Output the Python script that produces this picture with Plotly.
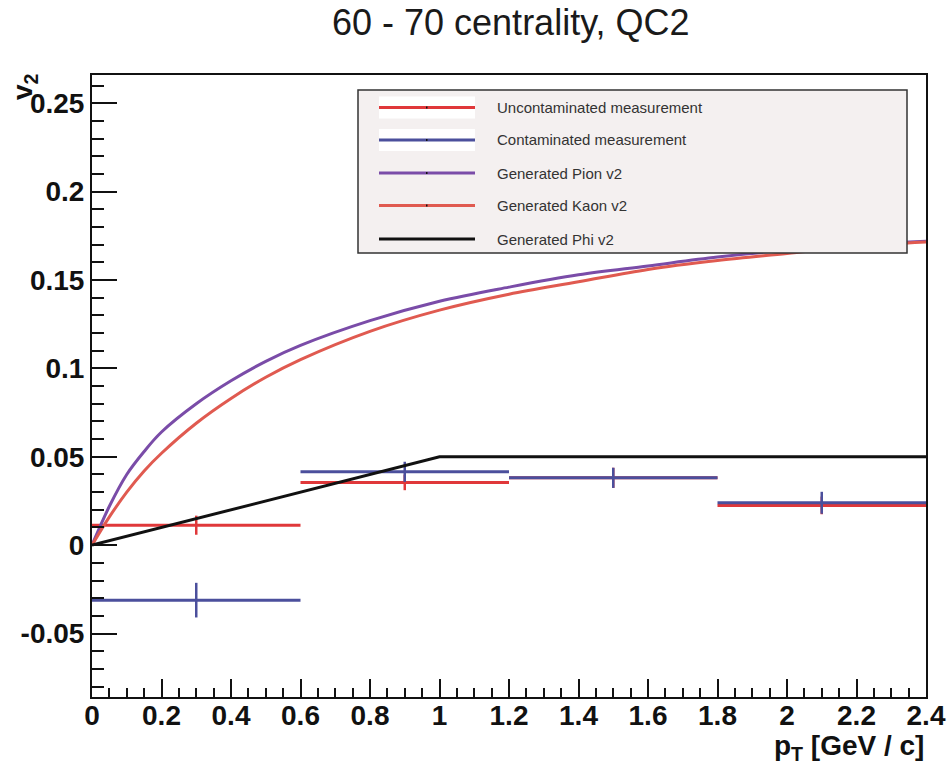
import plotly.graph_objects as go

# ---------------- data ----------------
bin_centers = [0.3, 0.9, 1.5, 2.1]
bin_halfwidth = [0.3, 0.3, 0.3, 0.3]

uncont_v2 = [0.0113, 0.0355, 0.0381, 0.0225]
uncont_err = [0.0054, 0.0044, 0.0057, 0.0050]

cont_v2 = [-0.0311, 0.0415, 0.0381, 0.0240]
cont_err = [0.0098, 0.0057, 0.0057, 0.0062]

curve_pt = [0.0, 0.05, 0.1, 0.15, 0.2, 0.3, 0.4, 0.5, 0.6, 0.8, 1.0, 1.2, 1.4, 1.6, 1.8, 2.0, 2.2, 2.4]
pion_v2 = [0.0, 0.022, 0.040, 0.053, 0.064, 0.080, 0.093, 0.104, 0.113, 0.127, 0.138, 0.146, 0.153, 0.158, 0.163, 0.167, 0.170, 0.172]
kaon_v2 = [0.0, 0.016, 0.030, 0.042, 0.052, 0.069, 0.083, 0.095, 0.105, 0.121, 0.133, 0.142, 0.149, 0.156, 0.161, 0.165, 0.169, 0.1715]

phi_pt = [0.0, 1.0, 2.4]
phi_v2 = [0.0, 0.05, 0.05]

x_tickvals = [0, 0.2, 0.4, 0.6, 0.8, 1.0, 1.2, 1.4, 1.6, 1.8, 2.0, 2.2, 2.4]
x_ticktext = ["0", "0.2", "0.4", "0.6", "0.8", "1", "1.2", "1.4", "1.6", "1.8", "2", "2.2", "2.4"]
y_tickvals = [-0.05, 0, 0.05, 0.1, 0.15, 0.2, 0.25]
y_ticktext = ["-0.05", "0", "0.05", "0.1", "0.15", "0.2", "0.25"]

legend_labels = ["Uncontaminated measurement", "Contaminated measurement",
                 "Generated Pion v2", "Generated Kaon v2", "Generated Phi v2"]

# ---------------- styles ----------------
RED = "#e0383a"
BLUE = "#4b4f9c"
PURPLE = "#7a4ca8"
KAON = "#e05a50"
BLACK = "#111111"
legend_colors = [RED, BLUE, PURPLE, KAON, BLACK]

BOLDFONT = dict(family="Liberation Sans, Arial", size=28, color="#111111")

fig = go.Figure()

fig.add_trace(go.Scatter(
    x=bin_centers, y=uncont_v2, mode="markers",
    marker=dict(size=1, color=RED),
    error_x=dict(type="data", array=bin_halfwidth, width=0, thickness=3, color=RED),
    error_y=dict(type="data", array=uncont_err, width=0, thickness=2.5, color=RED),
    showlegend=False, name=legend_labels[0]))

fig.add_trace(go.Scatter(
    x=bin_centers, y=cont_v2, mode="markers",
    marker=dict(size=1, color=BLUE),
    error_x=dict(type="data", array=bin_halfwidth, width=0, thickness=3, color=BLUE),
    error_y=dict(type="data", array=cont_err, width=0, thickness=2.5, color=BLUE),
    showlegend=False, name=legend_labels[1]))

fig.add_trace(go.Scatter(x=curve_pt, y=pion_v2, mode="lines", line=dict(color=PURPLE, width=3, shape="spline"),
                         showlegend=False, name=legend_labels[2]))
fig.add_trace(go.Scatter(x=curve_pt, y=kaon_v2, mode="lines", line=dict(color=KAON, width=3, shape="spline"),
                         showlegend=False, name=legend_labels[3]))
fig.add_trace(go.Scatter(x=phi_pt, y=phi_v2, mode="lines", line=dict(color=BLACK, width=3),
                         showlegend=False, name=legend_labels[4]))

# ---------------- layout ----------------
L, R, T, B = 92, 23, 75, 67
W, H = 949, 764
pw = W - L - R
ph = H - T - B

def px2x(px):
    return (px - L) / pw

def py2y(py):
    return (H - B - py) / ph

fig.update_layout(
    width=W, height=H,
    margin=dict(l=L, r=R, t=T, b=B),
    paper_bgcolor="white", plot_bgcolor="white",
    showlegend=False,
    font=dict(family="Liberation Sans, Arial"),
)

fig.update_xaxes(
    range=[0, 2.4], showgrid=False, zeroline=False, automargin=False,
    showline=True, mirror=True, linecolor="#111111", linewidth=2,
    ticks="inside", ticklen=18, tickwidth=1.5, tickcolor="#111111",
    tickvals=x_tickvals, ticktext=["<b>%s</b>" % t for t in x_ticktext],
    tickfont=BOLDFONT, ticklabeloverflow="allow", ticklabelstandoff=-8,
    minor=dict(ticks="inside", dtick=0.05, ticklen=9, tickwidth=1.5, tickcolor="#111111", showgrid=False),
)
fig.update_yaxes(
    range=[-0.0859, 0.266], showgrid=False, zeroline=False, automargin=False,
    showline=True, mirror=True, linecolor="#111111", linewidth=2,
    ticks="inside", ticklen=25, tickwidth=1.5, tickcolor="#111111",
    tickvals=y_tickvals, ticktext=["<b>%s</b>" % t for t in y_ticktext],
    tickfont=BOLDFONT, ticklabelstandoff=0, ticklabeloverflow="allow",
    minor=dict(ticks="inside", dtick=0.01, tick0=0, ticklen=12, tickwidth=1.5, tickcolor="#111111", showgrid=False),
)

shapes = []
annotations = []

# legend box
shapes.append(dict(type="rect", xref="paper", yref="paper",
                   x0=px2x(358), x1=px2x(907), y0=py2y(253), y1=py2y(90),
                   fillcolor="#f4f0f0", line=dict(color="#333333", width=1.5), layer="above"))
entry_y = [107.5, 140, 173, 205.5, 239]
for i, (lab, col, ey) in enumerate(zip(legend_labels, legend_colors, entry_y)):
    if i < 2:
        shapes.append(dict(type="rect", xref="paper", yref="paper",
                           x0=px2x(379), x1=px2x(475), y0=py2y(ey + 11), y1=py2y(ey - 11),
                           fillcolor="white", line=dict(width=0), layer="above"))
    shapes.append(dict(type="line", xref="paper", yref="paper",
                       x0=px2x(379), x1=px2x(475), y0=py2y(ey), y1=py2y(ey),
                       line=dict(color=col, width=3), layer="above"))
    shapes.append(dict(type="line", xref="paper", yref="paper",
                       x0=px2x(426), x1=px2x(427.5), y0=py2y(ey), y1=py2y(ey),
                       line=dict(color="#111111", width=2), layer="above"))
    annotations.append(dict(xref="paper", yref="paper", x=px2x(495), y=py2y(ey),
                            xanchor="left", yanchor="middle", showarrow=False, text=lab,
                            font=dict(family="Liberation Sans, Arial", size=15, color="#333333")))

# title
annotations.append(dict(xref="paper", yref="paper", x=px2x(511), y=py2y(23),
                        xanchor="center", yanchor="middle", showarrow=False,
                        text="60 - 70 centrality, QC2",
                        font=dict(family="Liberation Sans, Arial", size=36, color="#1a1a1a")))
# axis titles
annotations.append(dict(xref="paper", yref="paper", x=px2x(926), y=py2y(747),
                        xanchor="right", yanchor="middle", showarrow=False,
                        text="<b>p<sub>T</sub> [GeV / c]</b>",
                        font=BOLDFONT))
annotations.append(dict(xref="paper", yref="paper", x=px2x(24), y=py2y(87),
                        xanchor="center", yanchor="middle", showarrow=False, textangle=-90,
                        text="<b>v<sub>2</sub></b>",
                        font=BOLDFONT))

fig.update_layout(shapes=shapes, annotations=annotations)

fig.write_html("out.html")
